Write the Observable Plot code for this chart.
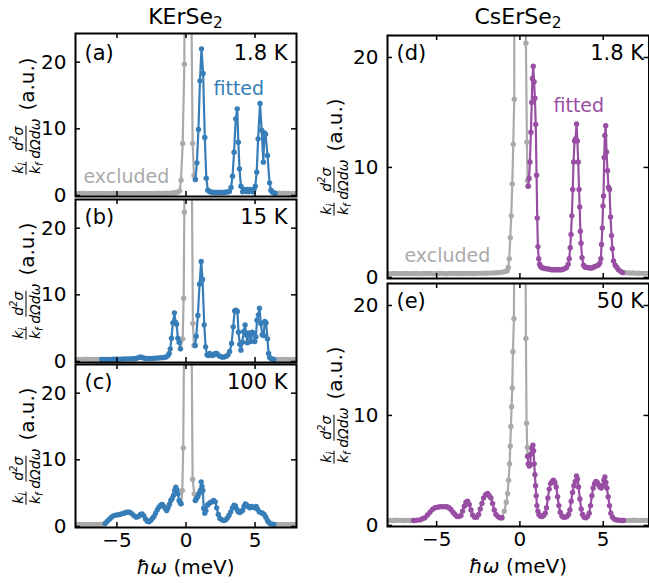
<!DOCTYPE html>
<html><head><meta charset="utf-8">
<script src="https://cdn.jsdelivr.net/npm/d3@7"></script>
<script src="https://cdn.jsdelivr.net/npm/@observablehq/plot@0.6"></script>
<style>
body{margin:0;background:#fff;}
#fig{position:relative;width:649px;height:583px;overflow:hidden;font-family:"DejaVu Sans",sans-serif;color:#000;}
#fig svg{position:absolute;max-width:none;}
.t{position:absolute;transform:translate(-50%,-50%);white-space:nowrap;font-size:20px;line-height:1;}
.tt{font-size:22px;}
.sb{font-size:0.7em;vertical-align:-0.25em;}
.ylab{position:absolute;transform:translate(-50%,-50%) rotate(-90deg);display:flex;align-items:center;white-space:nowrap;line-height:1;}
.frac{display:inline-flex;flex-direction:column;align-items:center;font-style:italic;font-size:14px;line-height:1.0;margin-right:3px;}
.frac .n{border-bottom:1px solid #000;padding:0 1px 1px 1px;}
.frac .d{padding-top:1px;}
.frac sub,.frac sup{font-size:0.7em;line-height:0;}
.au{font-size:20px;margin-left:5px;}
</style></head>
<body><div id="fig"></div>
<script>
const GRAY = "#aaaaaa", BLUE = "#377eb8", PURPLE = "#984ea3";
const xTicks = [-5, 0, 5];
const yTicks = [0, 10, 20];
const titles = ["KErSe", "CsErSe"];
const tags = ["(a)", "(b)", "(c)", "(d)", "(e)"];
const temps = ["1.8 K", "15 K", "100 K", "1.8 K", "50 K"];

// ---- (a) KErSe2 1.8 K ----
const grayA1 = [[-8,.32],[-7.75,.3],[-7.5,.33],[-7.25,.31],[-7,.3],[-6.75,.32],[-6.5,.31],[-6.25,.3],[-6,.32],[-5.75,.31],[-5.5,.3],[-5.25,.32],[-5,.31],[-4.75,.3],[-4.5,.32],[-4.25,.31],[-4,.3],[-3.75,.32],[-3.5,.31],[-3.25,.3],[-3,.32],[-2.75,.31],[-2.5,.32],[-2.25,.31],[-2,.33],[-1.75,.32],[-1.5,.34],[-1.25,.35],[-1,.38],[-0.8,.42],[-0.6,.5],[-0.46,.7],[-0.36,2.3],[-0.24,7.8],[-0.12,19.7],[0.1,150],[0.36,35],[0.48,7.8],[0.58,3.0],[0.68,2.4]];
const grayA2 = [[6.45,.35],[6.7,.33],[6.95,.32],[7.2,.33],[7.45,.31],[7.7,.32],[7.95,.31]];
const fitA = [[0.68,2.4],[0.79,4.9],[0.9,9.9],[1.01,17.2],[1.12,22.0],[1.24,18.3],[1.36,8.7],[1.47,2.6],[1.58,0.8],[1.7,0.6],[1.82,0.5],[1.94,0.5],[2.06,0.45],[2.18,0.45],[2.3,0.45],[2.42,0.45],[2.54,0.45],[2.66,0.45],[2.78,0.5],[2.9,0.5],[3.02,0.55],[3.14,0.6],[3.26,1.2],[3.37,2.9],[3.48,6.5],[3.6,11.5],[3.71,13.0],[3.79,8.0],[3.87,4.0],[3.98,1.4],[4.1,0.55],[4.2,0.9],[4.32,0.6],[4.42,0.9],[4.52,0.55],[4.62,0.9],[4.72,0.8],[4.82,0.55],[4.92,0.9],[5.02,1.4],[5.12,3.5],[5.22,8.5],[5.36,13.8],[5.48,9.8],[5.6,5.0],[5.68,9.4],[5.76,9.2],[5.9,6.0],[6.05,1.9],[6.15,0.8],[6.25,0.5],[6.35,0.4],[6.45,0.35]];

// ---- (b) KErSe2 15 K ----
const grayB1 = [[-8,.32],[-7.75,.3],[-7.5,.31],[-7.25,.33],[-7,.3],[-6.75,.31],[-6.5,.32],[-6.25,.3],[-6.1,.31]];
const grayB2 = [[-0.4,1.9],[-0.24,3.4],[-0.17,9.5],[-0.12,22.4],[0.1,150],[0.38,40],[0.5,5.7],[0.58,2.4],[0.66,2.4]];
const grayB3 = [[6.36,.3],[6.6,.32],[6.85,.31],[7.1,.3],[7.35,.32],[7.6,.31],[7.85,.3],[8,.31]];
const fitB1 = [[-6.1,.31],[-5.9,.3],[-5.7,.31],[-5.5,.32],[-5.3,.33],[-5.1,.34],[-4.9,.35],[-4.7,.36],[-4.5,.38],[-4.3,.4],[-4.1,.4],[-3.9,.41],[-3.7,.43],[-3.55,.5],[-3.4,.62],[-3.27,.68],[-3.14,.58],[-3.0,.48],[-2.8,.44],[-2.6,.44],[-2.4,.46],[-2.2,.5],[-2.0,.52],[-1.8,.56],[-1.6,.6],[-1.45,.68],[-1.32,.85],[-1.22,1.2],[-1.14,1.9],[-1.05,3.5],[-0.95,5.8],[-0.84,7.3],[-0.76,5.9],[-0.68,5.6],[-0.59,3.5],[-0.5,2.9],[-0.4,1.9]];
const fitB2 = [[0.66,2.4],[0.74,3.8],[0.86,6.9],[0.98,11.6],[1.1,15.0],[1.2,12.3],[1.32,5.5],[1.42,2.2],[1.52,1.0],[1.62,0.9],[1.72,1.2],[1.82,1.0],[1.92,0.9],[2.02,1.0],[2.12,1.2],[2.22,1.2],[2.32,1.0],[2.44,0.8],[2.56,0.7],[2.68,0.65],[2.8,0.7],[2.92,0.8],[3.04,1.0],[3.16,1.5],[3.3,2.7],[3.42,5.2],[3.52,7.6],[3.62,7.7],[3.72,7.5],[3.8,4.4],[3.9,2.6],[3.98,1.7],[4.08,2.9],[4.18,4.5],[4.28,5.5],[4.36,4.0],[4.44,2.8],[4.52,4.3],[4.6,4.2],[4.7,3.0],[4.8,4.4],[4.9,4.2],[4.98,3.0],[5.06,3.7],[5.14,6.2],[5.24,7.0],[5.32,8.0],[5.42,5.7],[5.52,4.0],[5.62,3.9],[5.7,6.0],[5.8,5.8],[5.9,3.4],[5.98,1.2],[6.06,0.6],[6.16,0.4],[6.26,0.35],[6.36,0.3]];

// ---- (c) KErSe2 100 K ----
const grayC1 = [[-8,.32],[-7.75,.31],[-7.5,.3],[-7.25,.32],[-7,.31],[-6.75,.3],[-6.5,.32],[-6.25,.31],[-6,.32],[-5.85,.45]];
const grayC2 = [[-0.36,3.4],[-0.27,5.4],[-0.2,11.8],[-0.1,40],[0.1,150],[0.36,40],[0.48,7.1],[0.6,4.9],[0.68,3.9]];
const grayC3 = [[6.36,.3],[6.6,.32],[6.85,.31],[7.1,.3],[7.35,.32],[7.6,.31],[7.85,.3],[8,.31]];
const fitC1 = [[-5.85,0.45],[-5.7,0.8],[-5.55,1.1],[-5.4,1.4],[-5.25,1.6],[-5.1,1.7],[-4.95,1.75],[-4.8,1.8],[-4.65,1.9],[-4.5,2.0],[-4.35,2.1],[-4.2,2.2],[-4.05,2.1],[-3.9,1.9],[-3.75,1.6],[-3.6,1.4],[-3.45,1.5],[-3.3,1.8],[-3.18,1.9],[-3.05,1.6],[-2.92,1.1],[-2.8,0.8],[-2.68,0.7],[-2.56,0.9],[-2.44,1.2],[-2.32,1.5],[-2.2,2.0],[-2.08,2.5],[-1.96,2.9],[-1.84,3.2],[-1.72,3.3],[-1.6,3.0],[-1.5,2.7],[-1.4,2.4],[-1.3,2.8],[-1.2,3.3],[-1.1,3.9],[-1.0,4.2],[-0.9,4.7],[-0.82,5.4],[-0.74,5.9],[-0.66,5.5],[-0.58,4.9],[-0.5,3.9],[-0.42,3.6],[-0.36,3.4]];
const fitC2 = [[0.68,3.9],[0.76,4.2],[0.86,4.5],[0.96,5.0],[1.04,5.4],[1.1,6.7],[1.16,6.0],[1.22,5.4],[1.28,2.7],[1.36,2.0],[1.44,2.4],[1.54,3.2],[1.64,3.4],[1.76,3.6],[1.88,3.7],[2.0,3.9],[2.12,3.7],[2.22,2.8],[2.34,1.8],[2.46,1.2],[2.6,1.0],[2.74,0.9],[2.88,1.0],[3.0,1.3],[3.12,1.7],[3.24,2.2],[3.36,2.8],[3.48,3.2],[3.58,3.1],[3.68,2.6],[3.78,2.2],[3.9,2.1],[4.0,2.3],[4.1,2.4],[4.2,3.0],[4.3,3.4],[4.4,3.2],[4.5,3.0],[4.62,2.8],[4.74,3.0],[4.86,2.9],[4.98,2.8],[5.08,3.0],[5.18,2.6],[5.3,2.2],[5.42,2.1],[5.54,2.0],[5.66,1.8],[5.78,1.4],[5.9,0.9],[6.0,0.6],[6.12,0.4],[6.24,0.35],[6.36,0.3]];

// ---- (d) CsErSe2 1.8 K ----
const grayD1 = [[-8,.35],[-7.8,.34],[-7.6,.36],[-7.4,.35],[-7.2,.34],[-7,.36],[-6.8,.35],[-6.6,.34],[-6.4,.35],[-6.2,.36],[-6,.34],[-5.8,.35],[-5.6,.36],[-5.4,.35],[-5.2,.34],[-5,.35],[-4.8,.36],[-4.6,.35],[-4.4,.34],[-4.2,.35],[-4,.36],[-3.8,.35],[-3.6,.35],[-3.4,.36],[-3.2,.35],[-3,.36],[-2.8,.36],[-2.6,.37],[-2.4,.37],[-2.2,.38],[-2,.38],[-1.8,.39],[-1.6,.4],[-1.4,.42],[-1.2,.45],[-1.0,.5],[-0.86,.55],[-0.76,0.6],[-0.7,0.9],[-0.64,1.7],[-0.58,3.6],[-0.52,5.6],[-0.46,8.5],[-0.4,12.1],[-0.34,16.2],[-0.3,150],[0.34,150],[0.36,21.3],[0.42,12.3],[0.46,8.8],[0.5,8.3]];
const grayD2 = [[6.16,.45],[6.36,.42],[6.56,.4],[6.76,.4],[6.96,.38],[7.16,.38],[7.36,.37],[7.56,.37],[7.76,.36]];
const fitD = [[0.5,8.3],[0.55,9.0],[0.6,10.5],[0.66,13.2],[0.71,15.9],[0.75,18.1],[0.8,19.2],[0.85,17.8],[0.9,16.3],[0.95,13.9],[1.0,9.3],[1.04,5.4],[1.08,2.8],[1.13,1.7],[1.18,1.2],[1.24,1.0],[1.3,0.9],[1.4,0.85],[1.5,0.8],[1.6,0.8],[1.7,0.75],[1.8,0.75],[1.9,0.7],[2.0,0.7],[2.1,0.7],[2.2,0.7],[2.3,0.7],[2.4,0.7],[2.5,0.7],[2.6,0.75],[2.7,0.8],[2.8,0.9],[2.9,1.2],[2.96,1.7],[3.02,2.7],[3.07,3.9],[3.12,5.6],[3.17,8.0],[3.22,10.5],[3.28,12.4],[3.34,12.6],[3.4,13.95],[3.45,12.4],[3.5,10.5],[3.55,8.0],[3.59,6.4],[3.63,4.2],[3.67,3.1],[3.73,1.8],[3.82,1.1],[3.9,0.95],[4.0,0.9],[4.1,0.9],[4.2,0.85],[4.3,0.85],[4.4,0.9],[4.5,1.0],[4.6,1.05],[4.7,1.1],[4.8,1.3],[4.86,1.7],[4.9,3.0],[4.95,4.5],[4.99,6.5],[5.02,7.4],[5.06,10.9],[5.1,12.9],[5.15,13.8],[5.2,11.4],[5.26,9.7],[5.32,8.2],[5.38,8.0],[5.44,5.5],[5.5,3.8],[5.55,2.6],[5.62,1.5],[5.72,1.1],[5.82,0.9],[5.92,0.7],[6.04,0.55],[6.16,0.45]];

// ---- (e) CsErSe2 50 K ----
const grayE1 = [[-8,.45],[-7.8,.46],[-7.6,.45],[-7.4,.47],[-7.2,.46],[-7,.45],[-6.8,.46],[-6.6,.45],[-6.38,.45]];
const grayE2 = [[-1.08,.7],[-0.94,1.3],[-0.82,2.1],[-0.74,2.9],[-0.68,4.1],[-0.62,5.6],[-0.58,7.2],[-0.54,9.0],[-0.5,10.8],[-0.46,12.5],[-0.42,15.8],[-0.36,18.8],[-0.3,40],[0.3,40],[0.36,17.0],[0.4,9.3],[0.44,7.1],[0.46,6.3]];
const grayE3 = [[6.22,.45],[6.42,.46],[6.62,.45],[6.82,.47],[7.02,.46],[7.22,.45],[7.42,.46],[7.62,.45],[7.76,.46]];
const fitE1 = [[-6.38,0.45],[-6.2,0.47],[-6.0,0.5],[-5.85,0.6],[-5.7,0.7],[-5.55,0.95],[-5.4,1.2],[-5.25,1.45],[-5.1,1.6],[-4.95,1.65],[-4.8,1.7],[-4.65,1.7],[-4.5,1.7],[-4.38,1.7],[-4.26,1.6],[-4.14,1.45],[-4.02,1.2],[-3.9,1.0],[-3.78,0.8],[-3.66,0.8],[-3.54,0.9],[-3.44,1.3],[-3.34,1.75],[-3.24,2.1],[-3.14,2.2],[-3.04,1.9],[-2.94,1.4],[-2.84,0.95],[-2.72,0.75],[-2.6,0.75],[-2.48,1.0],[-2.38,1.5],[-2.28,2.0],[-2.18,2.5],[-2.06,2.8],[-1.94,2.9],[-1.84,2.7],[-1.74,2.5],[-1.64,2.0],[-1.54,1.4],[-1.44,1.0],[-1.32,0.8],[-1.2,0.7],[-1.08,0.7]];
const fitE2 = [[0.46,6.3],[0.5,5.6],[0.56,5.4],[0.62,5.5],[0.66,6.5],[0.72,7.0],[0.78,7.3],[0.82,6.8],[0.86,5.6],[0.9,4.6],[0.94,3.6],[0.98,2.7],[1.02,1.8],[1.08,1.3],[1.14,1.0],[1.22,0.85],[1.32,0.8],[1.42,0.9],[1.52,1.1],[1.6,1.6],[1.68,2.5],[1.76,3.3],[1.84,3.8],[1.94,4.0],[2.02,4.1],[2.1,3.9],[2.18,3.5],[2.26,2.6],[2.34,1.8],[2.42,1.2],[2.52,0.85],[2.62,0.75],[2.72,0.75],[2.82,0.8],[2.92,1.0],[3.0,1.4],[3.08,2.2],[3.16,3.0],[3.24,3.6],[3.32,4.0],[3.4,4.5],[3.46,4.2],[3.52,3.5],[3.6,2.4],[3.68,1.5],[3.76,1.0],[3.86,0.75],[3.96,0.7],[4.06,0.8],[4.16,1.1],[4.24,1.8],[4.32,2.7],[4.4,3.4],[4.48,3.8],[4.56,4.0],[4.64,3.9],[4.72,3.7],[4.8,3.5],[4.88,3.4],[4.96,3.6],[5.04,4.1],[5.1,4.4],[5.16,3.9],[5.22,3.4],[5.3,2.6],[5.38,1.8],[5.46,1.1],[5.56,0.75],[5.68,0.55],[5.8,0.5],[5.94,0.47],[6.08,0.45],[6.22,0.45]];

const fig = document.getElementById("fig");
const fmt = d => d < 0 ? "\u2212" + Math.abs(d) : String(d);

function series(data, color, marks) {
  marks.push(Plot.line(data, {x: d => d[0], y: d => d[1], stroke: color, strokeWidth: 2.2, clip: true}));
  marks.push(Plot.dot(data, {x: d => d[0], y: d => d[1], r: 2.7, fill: color, stroke: "none", clip: true}));
}

function panel(c) {
  const W = c.fx1 - c.fx0, H = c.fy1 - c.fy0;
  const mL = 45, mR = 4, mT = 4, mB = c.xLabels ? 34 : 4;
  const marks = [];
  c.gray.forEach(s => series(s, GRAY, marks));
  c.fit.forEach(s => series(s, c.color, marks));
  marks.push(
    Plot.tickX(xTicks, {x: d => d, insetTop: H - 5, stroke: "black", strokeWidth: 1.5}),
    Plot.tickX(xTicks, {x: d => d, insetBottom: H - 5, stroke: "black", strokeWidth: 1.5}),
    Plot.tickY(yTicks, {y: d => d, insetRight: W - 5, stroke: "black", strokeWidth: 1.5}),
    Plot.tickY(yTicks, {y: d => d, insetLeft: W - 5, stroke: "black", strokeWidth: 1.5}),
    Plot.frame({stroke: "black", strokeWidth: 2}),
    Plot.axisY(yTicks, {anchor: "left", tickSize: 0, tickPadding: 9, tickFormat: fmt, fontSize: 20, label: null}),
    Plot.text([c.tag], {text: d => d, frameAnchor: "top-left", dx: 9, dy: c.tagDy, textAnchor: "start", lineAnchor: "middle", fontSize: 21, fill: "black"}),
    Plot.text([c.temp], {text: d => d, frameAnchor: "top-right", dx: c.tempDx, dy: c.tagDy, textAnchor: "end", lineAnchor: "middle", fontSize: 21, fill: "black"})
  );
  if (c.xLabels) marks.push(Plot.axisX(xTicks, {anchor: "bottom", tickSize: 0, tickPadding: 5, tickFormat: fmt, fontSize: 20, label: null}));
  (c.notes || []).forEach(n => marks.push(Plot.text([n.text], {text: d => d, frameAnchor: "top-left", dx: n.dx, dy: n.dy, textAnchor: "start", lineAnchor: "middle", fontSize: 19, fill: n.color})));
  const svg = Plot.plot({
    width: mL + W + mR, height: mT + H + mB,
    marginLeft: mL, marginRight: mR, marginTop: mT, marginBottom: mB,
    x: {domain: c.xDomain, axis: null},
    y: {domain: c.yDomain, axis: null},
    style: {fontFamily: "DejaVu Sans", fontSize: "20px", background: "transparent", overflow: "visible", color: "black"},
    marks
  });
  svg.style.left = (c.fx0 - mL) + "px";
  svg.style.top = (c.fy0 - mT) + "px";
  fig.appendChild(svg);
}

const leftX = {fx0: 75, fx1: 296, xDomain: [-8, 8], yDomain: [-0.15, 24.3], color: BLUE, tempDx: -9};
const rightX = {fx0: 386.5, fx1: 648, xDomain: [-7.95, 7.75], yDomain: [-0.1, 22], color: PURPLE, tempDx: -5};

panel({...leftX, fy0: 33, fy1: 196, gray: [grayA1, grayA2], fit: [fitA], tag: tags[0], temp: temps[0], tagDy: 20,
  notes: [{text: "fitted", dx: 138, dy: 55, color: BLUE}, {text: "excluded", dx: 8, dy: 143, color: GRAY}]});
panel({...leftX, fy0: 198.5, fy1: 361.5, gray: [grayB1, grayB2, grayB3], fit: [fitB1, fitB2], tag: tags[1], temp: temps[1], tagDy: 18});
panel({...leftX, fy0: 363.5, fy1: 526.5, gray: [grayC1, grayC2, grayC3], fit: [fitC1, fitC2], tag: tags[2], temp: temps[2], tagDy: 18, xLabels: true});
panel({...rightX, fy0: 35, fy1: 278, gray: [grayD1, grayD2], fit: [fitD], tag: tags[3], temp: temps[3], tagDy: 18,
  notes: [{text: "fitted", dx: 166, dy: 70, color: PURPLE}, {text: "excluded", dx: 17, dy: 220, color: GRAY}]});
panel({...rightX, fy0: 282.5, fy1: 525.5, gray: [grayE1, grayE2, grayE3], fit: [fitE1, fitE2], tag: tags[4], temp: temps[4], tagDy: 18, xLabels: true});

function addHTML(html, cls, x, y) {
  const d = document.createElement("div");
  d.className = cls; d.innerHTML = html;
  d.style.left = x + "px"; d.style.top = y + "px";
  fig.appendChild(d);
}
addHTML(titles[0] + '<span class="sb">2</span>', "t tt", 185.5, 19);
addHTML(titles[1] + '<span class="sb">2</span>', "t tt", 518, 19);
const xl = '<i>\u0127\u03c9</i> (meV)';
addHTML(xl, "t", 185.5, 567);
addHTML(xl, "t", 518, 566);
const yl = '<span class="frac"><span class="n">k<sub>i</sub></span><span class="d">k<sub>f</sub></span></span>' +
  '<span class="frac"><span class="n">d<sup>2</sup>\u03c3</span><span class="d">d\u03a9d\u03c9</span></span>' +
  '<span class="au">(a.u.)</span>';
[[26, 116], [26, 281], [26, 446], [334, 156.5], [334, 405]].forEach(p => addHTML(yl, "ylab", p[0], p[1]));
</script>
</body></html>
